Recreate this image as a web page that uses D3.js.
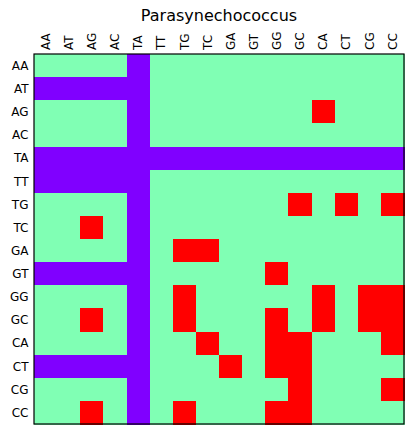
<!DOCTYPE html>
<html><head><meta charset="utf-8">
<script src="https://cdn.jsdelivr.net/npm/d3@7"></script>
<style>body{margin:0;background:#fff;} svg{display:block;}</style>
</head><body>
<script>
const labels = ["AA","AT","AG","AC","TA","TT","TG","TC","GA","GT","GG","GC","CA","CT","CG","CC"];
const title = "Parasynechococcus";
// 0 = purple, 1 = green, 2 = red ; rows in label order
const matrix = [
 [1,1,1,1,0,1,1,1,1,1,1,1,1,1,1,1],
 [0,0,0,0,0,1,1,1,1,1,1,1,1,1,1,1],
 [1,1,1,1,0,1,1,1,1,1,1,1,2,1,1,1],
 [1,1,1,1,0,1,1,1,1,1,1,1,1,1,1,1],
 [0,0,0,0,0,0,0,0,0,0,0,0,0,0,0,0],
 [0,0,0,0,0,1,1,1,1,1,1,1,1,1,1,1],
 [1,1,1,1,0,1,1,1,1,1,1,2,1,2,1,2],
 [1,1,2,1,0,1,1,1,1,1,1,1,1,1,1,1],
 [1,1,1,1,0,1,2,2,1,1,1,1,1,1,1,1],
 [0,0,0,0,0,1,1,1,1,1,2,1,1,1,1,1],
 [1,1,1,1,0,1,2,1,1,1,1,1,2,1,2,2],
 [1,1,2,1,0,1,2,1,1,1,2,1,2,1,2,2],
 [1,1,1,1,0,1,1,2,1,1,2,2,1,1,1,2],
 [0,0,0,0,0,1,1,1,2,1,2,2,1,1,1,1],
 [1,1,1,1,0,1,1,1,1,1,1,2,1,1,1,2],
 [1,1,2,1,0,1,2,1,1,1,2,2,1,1,1,1]
];
const colors = ["#8000ff","#80ffb4","#ff0000"];

const W=413,H=434;
const mLeft=34, mTop=54, size=370;
const svg=d3.select("body").append("svg").attr("width",W).attr("height",H);
const x=d3.scaleBand().domain(labels).range([mLeft,mLeft+size]);
const y=d3.scaleBand().domain(labels).range([mTop,mTop+size]);
const color=d3.scaleOrdinal().domain([0,1,2]).range(colors);

const cells=[];
matrix.forEach((row,i)=>row.forEach((v,j)=>cells.push({r:labels[i],c:labels[j],v})));
svg.append("g").selectAll("rect").data(cells).join("rect")
  .attr("x",d=>x(d.c)).attr("y",d=>y(d.r))
  .attr("width",x.bandwidth()+0.5).attr("height",y.bandwidth()+0.5)
  .attr("fill",d=>color(d.v)).attr("shape-rendering","crispEdges");

svg.append("rect").attr("x",mLeft).attr("y",mTop).attr("width",size).attr("height",size)
  .attr("fill","none").attr("stroke","#000").attr("stroke-width",1.2);

const font="DejaVu Sans";
svg.append("g").selectAll("text").data(labels).join("text")
  .attr("transform",d=>`translate(${x(d)+x.bandwidth()/2+4.3},${mTop-4}) rotate(-90)`)
  .attr("text-anchor","start").attr("font-family",font).attr("font-size",12)
  .text(d=>d);
svg.append("g").selectAll("text").data(labels).join("text")
  .attr("x",mLeft-5.5).attr("y",d=>y(d)+y.bandwidth()/2).attr("dy","0.36em")
  .attr("text-anchor","end").attr("font-family",font).attr("font-size",12)
  .text(d=>d);
svg.append("text").attr("x",mLeft+size/2).attr("y",21).attr("text-anchor","middle")
  .attr("font-family",font).attr("font-size",16).text(title);
</script>
</body></html>
